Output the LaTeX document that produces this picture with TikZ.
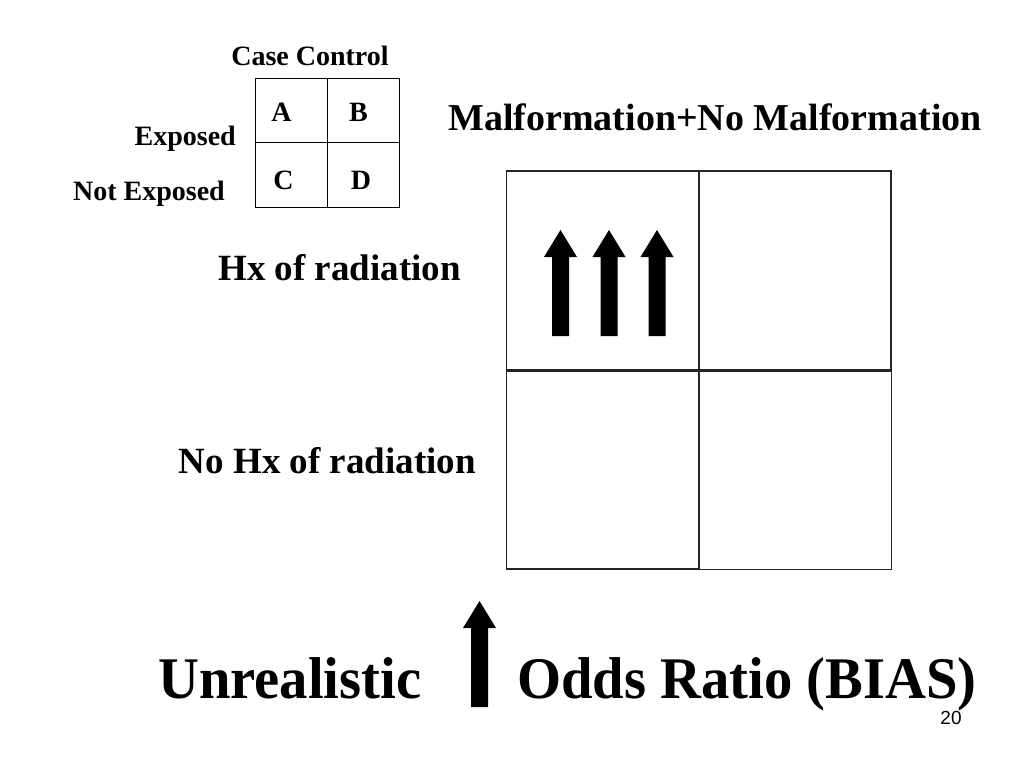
\documentclass[tikz,border=0pt]{standalone}
\usepackage{fontspec}
\setmainfont{Liberation Serif}
\newfontfamily\pagenofont{Liberation Sans}
\begin{document}
\begin{tikzpicture}[x=1pt,y=-1pt,
  lbl/.style={inner sep=0pt,anchor=base,font=\bfseries\fontsize{28}{30}\selectfont},
  big/.style={inner sep=0pt,anchor=base,font=\bfseries\fontsize{38}{40}\selectfont},
  huge/.style={inner sep=0pt,anchor=base,xscale=0.96,font=\bfseries\fontsize{59}{62}\selectfont},
  smallcell/.style={draw=black,line width=1pt,minimum width=72pt,minimum height=64.5pt,inner sep=0pt,anchor=north west},
  bigcell/.style={draw=black!85,line width=1.6pt,minimum width=192pt,minimum height=199pt,inner sep=0pt,anchor=north west},
  uparrow/.style={fill=black}
]
\useasboundingbox[fill=white] (0,0) rectangle (1024,768);

% small 2x2 table
\node[smallcell] (sa) at (255,77.5) {};
\node[smallcell] (sb) at (327,77.5) {};
\node[smallcell] (sc) at (255,142) {};
\node[smallcell] (sd) at (327,142) {};
\node[lbl] (ccase) at (310,65) {Case Control};
\node[lbl] (la) at (281.5,121) {A};
\node[lbl] (lb) at (358.5,121) {B};
\node[lbl] (lc) at (283.5,189) {C};
\node[lbl,anchor=base east] (lexp) at (236,145) {Exposed};
\node[lbl,anchor=base east] (lnexp) at (225,200) {Not Exposed};
\node[lbl] (ld) at (361,189) {D};

% big 2x2 grid
\node[bigcell] (ba) at (505.5,170) {};
\node[bigcell] (bb) at (698,170) {};
\node[bigcell,minimum height=198pt] (bc) at (505.5,370) {};
\node[bigcell,minimum height=198.5pt] (bd) at (698.5,370) {};

\node[big,anchor=base] (mal) at (715,130) {Malformation+No Malformation};
\node[big,anchor=base east,font=\bfseries\fontsize{37}{40}\selectfont] (hx) at (461,280) {Hx of radiation};
\node[big,anchor=base east,font=\bfseries\fontsize{37}{40}\selectfont] (nohx) at (476,473) {No Hx of radiation};

% three up arrows
\foreach \cx/\nm in {560.5/a1,609/a2,657/a3}{
  \fill[uparrow] (\cx-8.5,336) -- (\cx-8.5,257) -- (\cx-16.5,257) -- (\cx,230)
     -- (\cx+16.5,257) -- (\cx+8.5,257) -- (\cx+8.5,336) -- cycle;
}

% bottom line
\node[huge,anchor=base west] (unreal) at (158,698) {Unrealistic};
\fill[uparrow] (471,707) -- (471,628) -- (463,628) -- (479.5,601) -- (496,628) -- (488,628) -- (488,707) -- cycle;
\node[huge,anchor=base west] (odds) at (517,698) {Odds Ratio (BIAS)};
\node[inner sep=0pt,anchor=base,font=\pagenofont\fontsize{19}{20}\selectfont] (pg) at (951,724) {20};
\end{tikzpicture}
\end{document}
